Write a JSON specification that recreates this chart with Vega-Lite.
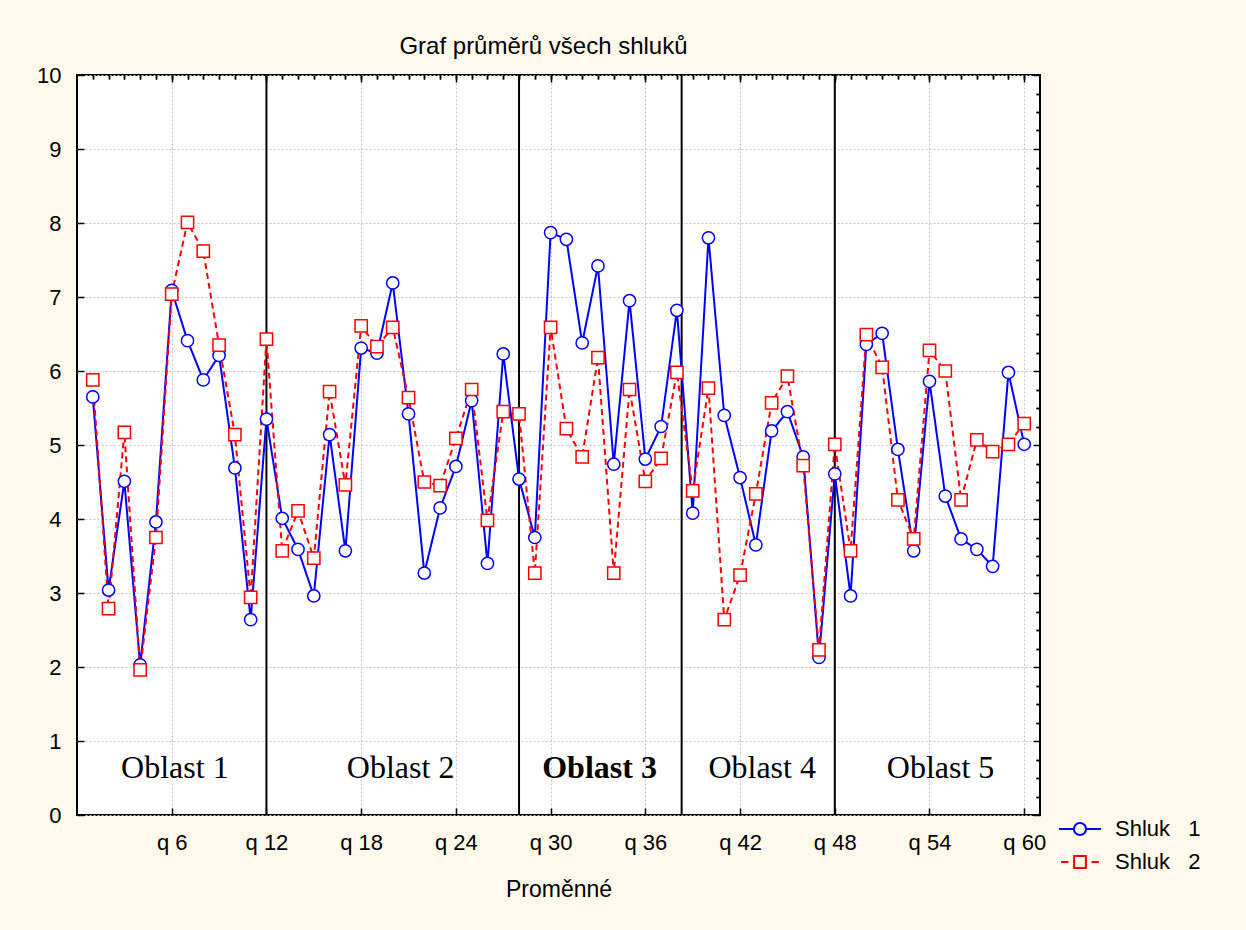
{
  "$schema": "https://vega.github.io/schema/vega-lite/v6.json",
  "width": 963,
  "height": 740,
  "autosize": "none",
  "padding": {"left": 77, "top": 75, "right": 206, "bottom": 115},
  "background": "#FFF9EC",
  "title": {
    "text": "Graf průměrů všech shluků",
    "font": "Liberation Sans",
    "fontSize": 24,
    "fontWeight": "normal",
    "color": "black",
    "anchor": "middle",
    "baseline": "alphabetic",
    "offset": -14,
    "dx": -15
  },
  "config": {
    "view": {"fill": "white", "stroke": "black", "strokeWidth": 2},
    "font": "Liberation Sans",
    "axis": {
      "labelFont": "Liberation Sans",
      "titleFont": "Liberation Sans",
      "labelColor": "black",
      "titleColor": "black",
      "tickColor": "black",
      "domain": false,
      "grid": false,
      "labels": false,
      "minExtent": 0
    }
  },
  "datasets": {
    "prumery": [
      {"q": 1, "shluk": "Shluk 1", "prumer": 5.65},
      {"q": 2, "shluk": "Shluk 1", "prumer": 3.04},
      {"q": 3, "shluk": "Shluk 1", "prumer": 4.51},
      {"q": 4, "shluk": "Shluk 1", "prumer": 2.03},
      {"q": 5, "shluk": "Shluk 1", "prumer": 3.96},
      {"q": 6, "shluk": "Shluk 1", "prumer": 7.09},
      {"q": 7, "shluk": "Shluk 1", "prumer": 6.41},
      {"q": 8, "shluk": "Shluk 1", "prumer": 5.88},
      {"q": 9, "shluk": "Shluk 1", "prumer": 6.21},
      {"q": 10, "shluk": "Shluk 1", "prumer": 4.69},
      {"q": 11, "shluk": "Shluk 1", "prumer": 2.64},
      {"q": 12, "shluk": "Shluk 1", "prumer": 5.35},
      {"q": 13, "shluk": "Shluk 1", "prumer": 4.01},
      {"q": 14, "shluk": "Shluk 1", "prumer": 3.59},
      {"q": 15, "shluk": "Shluk 1", "prumer": 2.96},
      {"q": 16, "shluk": "Shluk 1", "prumer": 5.14},
      {"q": 17, "shluk": "Shluk 1", "prumer": 3.57},
      {"q": 18, "shluk": "Shluk 1", "prumer": 6.31},
      {"q": 19, "shluk": "Shluk 1", "prumer": 6.24},
      {"q": 20, "shluk": "Shluk 1", "prumer": 7.19},
      {"q": 21, "shluk": "Shluk 1", "prumer": 5.42},
      {"q": 22, "shluk": "Shluk 1", "prumer": 3.27},
      {"q": 23, "shluk": "Shluk 1", "prumer": 4.15},
      {"q": 24, "shluk": "Shluk 1", "prumer": 4.71},
      {"q": 25, "shluk": "Shluk 1", "prumer": 5.60},
      {"q": 26, "shluk": "Shluk 1", "prumer": 3.40},
      {"q": 27, "shluk": "Shluk 1", "prumer": 6.23},
      {"q": 28, "shluk": "Shluk 1", "prumer": 4.54},
      {"q": 29, "shluk": "Shluk 1", "prumer": 3.75},
      {"q": 30, "shluk": "Shluk 1", "prumer": 7.87},
      {"q": 31, "shluk": "Shluk 1", "prumer": 7.78},
      {"q": 32, "shluk": "Shluk 1", "prumer": 6.38},
      {"q": 33, "shluk": "Shluk 1", "prumer": 7.42},
      {"q": 34, "shluk": "Shluk 1", "prumer": 4.74},
      {"q": 35, "shluk": "Shluk 1", "prumer": 6.95},
      {"q": 36, "shluk": "Shluk 1", "prumer": 4.81},
      {"q": 37, "shluk": "Shluk 1", "prumer": 5.25},
      {"q": 38, "shluk": "Shluk 1", "prumer": 6.82},
      {"q": 39, "shluk": "Shluk 1", "prumer": 4.08},
      {"q": 40, "shluk": "Shluk 1", "prumer": 7.80},
      {"q": 41, "shluk": "Shluk 1", "prumer": 5.40},
      {"q": 42, "shluk": "Shluk 1", "prumer": 4.56},
      {"q": 43, "shluk": "Shluk 1", "prumer": 3.65},
      {"q": 44, "shluk": "Shluk 1", "prumer": 5.19},
      {"q": 45, "shluk": "Shluk 1", "prumer": 5.45},
      {"q": 46, "shluk": "Shluk 1", "prumer": 4.84},
      {"q": 47, "shluk": "Shluk 1", "prumer": 2.13},
      {"q": 48, "shluk": "Shluk 1", "prumer": 4.61},
      {"q": 49, "shluk": "Shluk 1", "prumer": 2.96},
      {"q": 50, "shluk": "Shluk 1", "prumer": 6.36},
      {"q": 51, "shluk": "Shluk 1", "prumer": 6.51},
      {"q": 52, "shluk": "Shluk 1", "prumer": 4.94},
      {"q": 53, "shluk": "Shluk 1", "prumer": 3.57},
      {"q": 54, "shluk": "Shluk 1", "prumer": 5.86},
      {"q": 55, "shluk": "Shluk 1", "prumer": 4.31},
      {"q": 56, "shluk": "Shluk 1", "prumer": 3.73},
      {"q": 57, "shluk": "Shluk 1", "prumer": 3.59},
      {"q": 58, "shluk": "Shluk 1", "prumer": 3.36},
      {"q": 59, "shluk": "Shluk 1", "prumer": 5.98},
      {"q": 60, "shluk": "Shluk 1", "prumer": 5.01},
      {"q": 1, "shluk": "Shluk 2", "prumer": 5.88},
      {"q": 2, "shluk": "Shluk 2", "prumer": 2.79},
      {"q": 3, "shluk": "Shluk 2", "prumer": 5.17},
      {"q": 4, "shluk": "Shluk 2", "prumer": 1.96},
      {"q": 5, "shluk": "Shluk 2", "prumer": 3.75},
      {"q": 6, "shluk": "Shluk 2", "prumer": 7.04},
      {"q": 7, "shluk": "Shluk 2", "prumer": 8.01},
      {"q": 8, "shluk": "Shluk 2", "prumer": 7.62},
      {"q": 9, "shluk": "Shluk 2", "prumer": 6.35},
      {"q": 10, "shluk": "Shluk 2", "prumer": 5.14},
      {"q": 11, "shluk": "Shluk 2", "prumer": 2.94},
      {"q": 12, "shluk": "Shluk 2", "prumer": 6.43},
      {"q": 13, "shluk": "Shluk 2", "prumer": 3.57},
      {"q": 14, "shluk": "Shluk 2", "prumer": 4.11},
      {"q": 15, "shluk": "Shluk 2", "prumer": 3.47},
      {"q": 16, "shluk": "Shluk 2", "prumer": 5.72},
      {"q": 17, "shluk": "Shluk 2", "prumer": 4.46},
      {"q": 18, "shluk": "Shluk 2", "prumer": 6.61},
      {"q": 19, "shluk": "Shluk 2", "prumer": 6.33},
      {"q": 20, "shluk": "Shluk 2", "prumer": 6.59},
      {"q": 21, "shluk": "Shluk 2", "prumer": 5.64},
      {"q": 22, "shluk": "Shluk 2", "prumer": 4.50},
      {"q": 23, "shluk": "Shluk 2", "prumer": 4.45},
      {"q": 24, "shluk": "Shluk 2", "prumer": 5.09},
      {"q": 25, "shluk": "Shluk 2", "prumer": 5.75},
      {"q": 26, "shluk": "Shluk 2", "prumer": 3.98},
      {"q": 27, "shluk": "Shluk 2", "prumer": 5.45},
      {"q": 28, "shluk": "Shluk 2", "prumer": 5.42},
      {"q": 29, "shluk": "Shluk 2", "prumer": 3.27},
      {"q": 30, "shluk": "Shluk 2", "prumer": 6.59},
      {"q": 31, "shluk": "Shluk 2", "prumer": 5.22},
      {"q": 32, "shluk": "Shluk 2", "prumer": 4.84},
      {"q": 33, "shluk": "Shluk 2", "prumer": 6.18},
      {"q": 34, "shluk": "Shluk 2", "prumer": 3.27},
      {"q": 35, "shluk": "Shluk 2", "prumer": 5.75},
      {"q": 36, "shluk": "Shluk 2", "prumer": 4.51},
      {"q": 37, "shluk": "Shluk 2", "prumer": 4.82},
      {"q": 38, "shluk": "Shluk 2", "prumer": 5.98},
      {"q": 39, "shluk": "Shluk 2", "prumer": 4.38},
      {"q": 40, "shluk": "Shluk 2", "prumer": 5.77},
      {"q": 41, "shluk": "Shluk 2", "prumer": 2.64},
      {"q": 42, "shluk": "Shluk 2", "prumer": 3.24},
      {"q": 43, "shluk": "Shluk 2", "prumer": 4.34},
      {"q": 44, "shluk": "Shluk 2", "prumer": 5.57},
      {"q": 45, "shluk": "Shluk 2", "prumer": 5.93},
      {"q": 46, "shluk": "Shluk 2", "prumer": 4.72},
      {"q": 47, "shluk": "Shluk 2", "prumer": 2.23},
      {"q": 48, "shluk": "Shluk 2", "prumer": 5.01},
      {"q": 49, "shluk": "Shluk 2", "prumer": 3.57},
      {"q": 50, "shluk": "Shluk 2", "prumer": 6.49},
      {"q": 51, "shluk": "Shluk 2", "prumer": 6.05},
      {"q": 52, "shluk": "Shluk 2", "prumer": 4.26},
      {"q": 53, "shluk": "Shluk 2", "prumer": 3.73},
      {"q": 54, "shluk": "Shluk 2", "prumer": 6.28},
      {"q": 55, "shluk": "Shluk 2", "prumer": 6.00},
      {"q": 56, "shluk": "Shluk 2", "prumer": 4.26},
      {"q": 57, "shluk": "Shluk 2", "prumer": 5.07},
      {"q": 58, "shluk": "Shluk 2", "prumer": 4.91},
      {"q": 59, "shluk": "Shluk 2", "prumer": 5.01},
      {"q": 60, "shluk": "Shluk 2", "prumer": 5.29}
    ],
    "hranice": [
      {"q": 12},
      {"q": 28},
      {"q": 38.3},
      {"q": 48}
    ],
    "oblasti": [
      {"oblast": "Oblast 1", "stred": 6.2},
      {"oblast": "Oblast 2", "stred": 20.5},
      {"oblast": "Oblast 3", "stred": 33.1},
      {"oblast": "Oblast 4", "stred": 43.4},
      {"oblast": "Oblast 5", "stred": 54.7}
    ]
  },
  "layer": [
    {
      "data": {"name": "hranice"},
      "mark": {"type": "rule", "color": "black", "strokeWidth": 2},
      "encoding": {
        "x": {"field": "q", "type": "quantitative", "axis": null}
      }
    },
    {
      "data": {"name": "prumery"},
      "mark": {"type": "line", "strokeWidth": 2},
      "encoding": {
        "x": {
          "field": "q",
          "type": "quantitative",
          "scale": {"domain": [0, 61], "nice": false, "zero": false},
          "axis": {
            "values": [6, 12, 18, 24, 30, 36, 42, 48, 54, 60],
            "labels": true,
            "labelExpr": "'q ' + datum.value",
            "labelFontSize": 22,
            "labelPadding": 24,
            "tickSize": -7,
            "tickWidth": 1.5,
            "grid": true,
            "gridColor": "#C4C4C4",
            "gridDash": [2, 2],
            "gridWidth": 1,
            "title": "Proměnné",
            "titleFontSize": 23,
            "titleFontWeight": "normal",
            "titlePadding": 25
          }
        },
        "y": {
          "field": "prumer",
          "type": "quantitative",
          "scale": {"domain": [0, 10], "nice": false, "zero": false},
          "axis": {
            "values": [0, 1, 2, 3, 4, 5, 6, 7, 8, 9, 10],
            "labels": true,
            "labelFontSize": 22,
            "labelPadding": 23,
            "tickSize": -7,
            "tickWidth": 1.5,
            "grid": true,
            "gridColor": "#C4C4C4",
            "gridDash": [2, 2],
            "gridWidth": 1,
            "title": null
          }
        },
        "color": {
          "field": "shluk",
          "type": "nominal",
          "scale": {"domain": ["Shluk 1", "Shluk 2"], "range": ["#0000FF", "#FF0000"]},
          "legend": null
        },
        "strokeDash": {
          "field": "shluk",
          "type": "nominal",
          "scale": {"domain": ["Shluk 1", "Shluk 2"], "range": [[1, 0], [6, 4]]},
          "legend": null
        }
      }
    },
    {
      "data": {"name": "prumery"},
      "mark": {"type": "point", "filled": false, "fill": "white", "fillOpacity": 1, "opacity": 1, "strokeWidth": 1.5, "size": 150},
      "encoding": {
        "x": {
          "field": "q",
          "type": "quantitative",
          "axis": {"values": [1, 2, 3, 4, 5, 6, 7, 8, 9, 10, 11, 12, 13, 14, 15, 16, 17, 18, 19, 20, 21, 22, 23, 24, 25, 26, 27, 28, 29, 30, 31, 32, 33, 34, 35, 36, 37, 38, 39, 40, 41, 42, 43, 44, 45, 46, 47, 48, 49, 50, 51, 52, 53, 54, 55, 56, 57, 58, 59, 60], "tickSize": -4, "tickWidth": 1.5, "title": null}
        },
        "y": {
          "field": "prumer",
          "type": "quantitative",
          "axis": {"values": [0.25, 0.5, 0.75, 1.25, 1.5, 1.75, 2.25, 2.5, 2.75, 3.25, 3.5, 3.75, 4.25, 4.5, 4.75, 5.25, 5.5, 5.75, 6.25, 6.5, 6.75, 7.25, 7.5, 7.75, 8.25, 8.5, 8.75, 9.25, 9.5, 9.75], "tickSize": -4, "tickWidth": 1.5, "title": null}
        },
        "color": {
          "field": "shluk",
          "type": "nominal",
          "scale": {"domain": ["Shluk 1", "Shluk 2"], "range": ["#0000FF", "#FF0000"]},
          "legend": null
        },
        "shape": {
          "field": "shluk",
          "type": "nominal",
          "scale": {"domain": ["Shluk 1", "Shluk 2"], "range": ["circle", "square"]},
          "legend": null
        }
      }
    },
    {
      "data": {"name": "prumery"},
      "mark": {"type": "point", "opacity": 0},
      "encoding": {
        "x": {
          "field": "q",
          "type": "quantitative",
          "axis": {"orient": "top", "values": [6, 12, 18, 24, 30, 36, 42, 48, 54, 60], "tickSize": -7, "tickWidth": 1.5, "title": null}
        },
        "y": {
          "field": "prumer",
          "type": "quantitative",
          "axis": {"orient": "right", "values": [0, 1, 2, 3, 4, 5, 6, 7, 8, 9, 10], "tickSize": -7, "tickWidth": 1.5, "title": null}
        }
      }
    },
    {
      "data": {"name": "prumery"},
      "mark": {"type": "point", "opacity": 0},
      "encoding": {
        "x": {
          "field": "q",
          "type": "quantitative",
          "axis": {"orient": "top", "values": [1, 2, 3, 4, 5, 6, 7, 8, 9, 10, 11, 12, 13, 14, 15, 16, 17, 18, 19, 20, 21, 22, 23, 24, 25, 26, 27, 28, 29, 30, 31, 32, 33, 34, 35, 36, 37, 38, 39, 40, 41, 42, 43, 44, 45, 46, 47, 48, 49, 50, 51, 52, 53, 54, 55, 56, 57, 58, 59, 60], "tickSize": -4, "tickWidth": 1.5, "title": null}
        },
        "y": {
          "field": "prumer",
          "type": "quantitative",
          "axis": {"orient": "right", "values": [0.25, 0.5, 0.75, 1.25, 1.5, 1.75, 2.25, 2.5, 2.75, 3.25, 3.5, 3.75, 4.25, 4.5, 4.75, 5.25, 5.5, 5.75, 6.25, 6.5, 6.75, 7.25, 7.5, 7.75, 8.25, 8.5, 8.75, 9.25, 9.5, 9.75], "tickSize": -4, "tickWidth": 1.5, "title": null}
        }
      }
    },
    {
      "data": {"name": "prumery"},
      "transform": [{"filter": "false"}],
      "mark": {"type": "point", "filled": false, "opacity": 1, "strokeWidth": 2},
      "encoding": {
        "x": {"field": "q", "type": "quantitative", "axis": null},
        "y": {"field": "prumer", "type": "quantitative", "axis": null},
        "color": {
          "field": "shluk",
          "type": "nominal",
          "scale": {"domain": ["Shluk 1", "Shluk 2"], "range": ["#0000FF", "#FF0000"]},
          "legend": {
            "title": null,
            "orient": "none",
            "legendX": 981,
            "legendY": 732,
            "padding": 0,
            "symbolSize": 1764,
            "symbolStrokeWidth": 2,
            "labelFont": "Liberation Sans",
            "labelFontSize": 22,
            "labelColor": "black",
            "labelOffset": 13,
            "rowPadding": -6,
            "labelExpr": "replace(datum.label, ' ', '\u00a0\u00a0\u00a0')"
          }
        },
        "shape": {
          "field": "shluk",
          "type": "nominal",
          "scale": {
            "domain": ["Shluk 1", "Shluk 2"],
            "range": [
              "M-1,0H-0.29M0.29,0H1M0.29,0A0.29,0.29,0,1,1,-0.29,0A0.29,0.29,0,1,1,0.29,0",
              "M-0.9,0H-0.55M0.55,0H0.9M-0.28,-0.28H0.28V0.28H-0.28Z"
            ]
          },
          "legend": {
            "title": null,
            "orient": "none",
            "legendX": 981,
            "legendY": 732,
            "padding": 0,
            "symbolSize": 1764,
            "symbolStrokeWidth": 2,
            "labelFont": "Liberation Sans",
            "labelFontSize": 22,
            "labelColor": "black",
            "labelOffset": 13,
            "rowPadding": -6,
            "labelExpr": "replace(datum.label, ' ', '\u00a0\u00a0\u00a0')"
          }
        }
      }
    },
    {
      "data": {"name": "oblasti"},
      "transform": [{"filter": "datum.oblast !== 'Oblast 3'"}],
      "mark": {"type": "text", "font": "Liberation Serif", "fontSize": 32, "color": "black", "baseline": "middle", "align": "center"},
      "encoding": {
        "x": {"field": "stred", "type": "quantitative", "axis": null},
        "y": {"datum": 0.64, "type": "quantitative", "axis": null},
        "text": {"field": "oblast"}
      }
    },
    {
      "data": {"name": "oblasti"},
      "transform": [{"filter": "datum.oblast === 'Oblast 3'"}],
      "mark": {"type": "text", "font": "Liberation Serif", "fontSize": 32, "fontWeight": "bold", "color": "black", "baseline": "middle", "align": "center"},
      "encoding": {
        "x": {"field": "stred", "type": "quantitative", "axis": null},
        "y": {"datum": 0.64, "type": "quantitative", "axis": null},
        "text": {"field": "oblast"}
      }
    }
  ],
  "resolve": {
    "axis": {"x": "independent", "y": "independent"},
    "scale": {"color": "independent", "shape": "independent", "strokeDash": "independent"}
  }
}
